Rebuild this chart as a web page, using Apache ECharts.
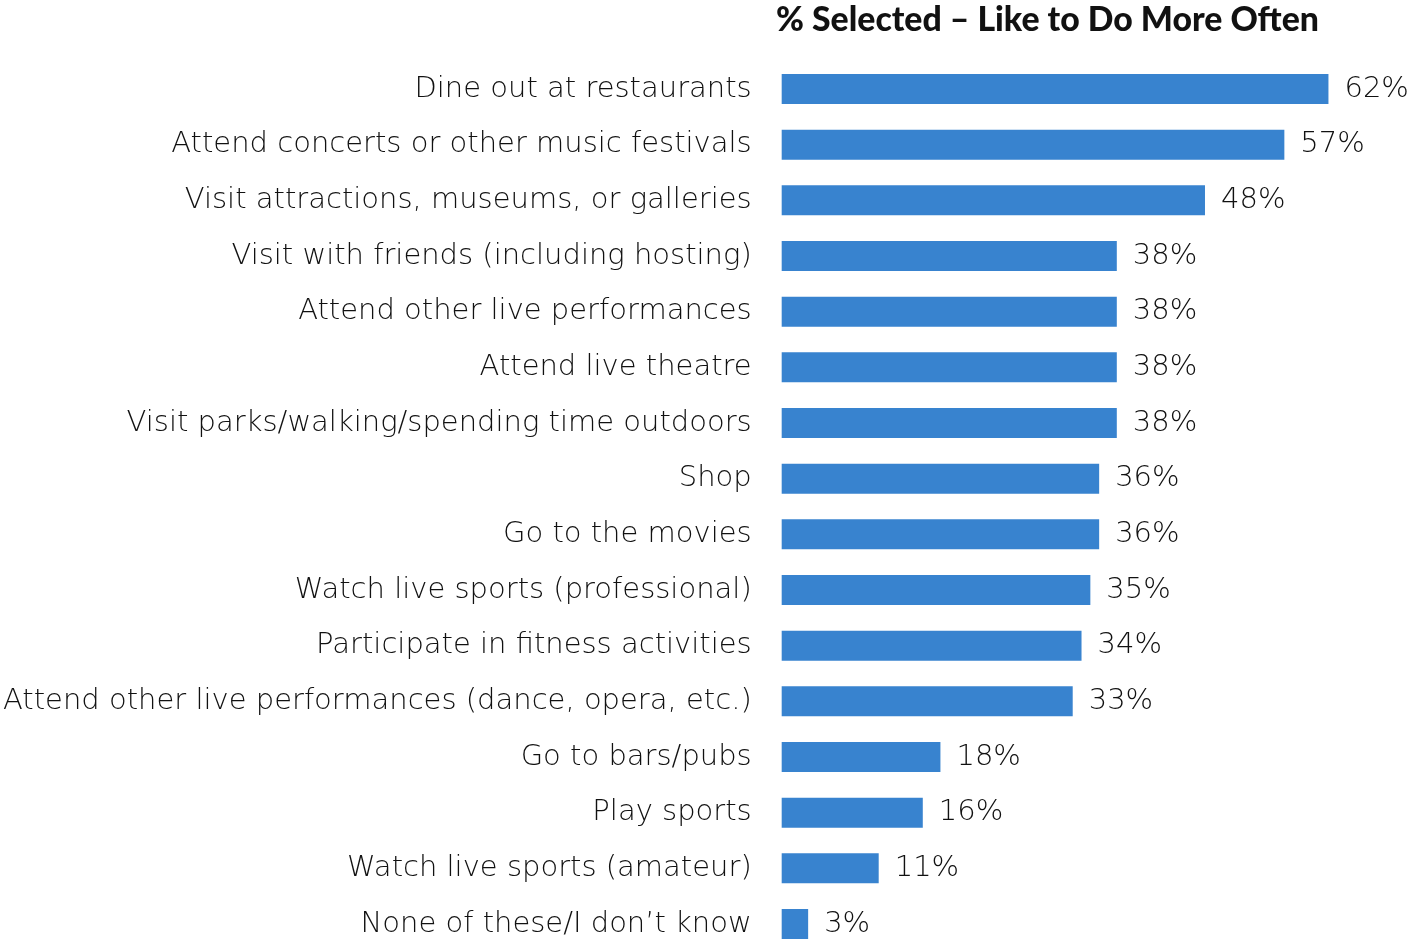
<!DOCTYPE html>
<html>
<head>
<meta charset="utf-8">
<script src="https://cdn.jsdelivr.net/npm/echarts@6/dist/echarts.min.js"></script>
<style>
  html, body { margin: 0; padding: 0; background: #fff; }
  #chart { width: 1410px; height: 940px; }
</style>
</head>
<body>
<div id="chart"></div>
<script>
// Activities, listed top to bottom
const activities = [
  'Dine out at restaurants',
  'Attend concerts or other music festivals',
  'Visit attractions, museums, or galleries',
  'Visit with friends (including hosting)',
  'Attend other live performances',
  'Attend live theatre',
  'Visit parks/walking/spending time outdoors',
  'Shop',
  'Go to the movies',
  'Watch live sports (professional)',
  'Participate in fitness activities',
  'Attend other live performances (dance, opera, etc.)',
  'Go to bars/pubs',
  'Play sports',
  'Watch live sports (amateur)',
  'None of these/I don\u2019t know'
];

// Share of respondents selecting each activity (%)
const selectedPct = [62, 57, 48, 38, 38, 38, 38, 36, 36, 35, 34, 33, 18, 16, 11, 3];

const titleText = '% Selected \u2013 Like to Do More Often';

const chart = echarts.init(document.getElementById('chart'), null, { renderer: 'canvas' });

const LABEL_FONT = '"DejaVu Sans", "Open Sans", sans-serif';
const TITLE_FONT = 'Lato, "Noto Sans", sans-serif';

chart.setOption({
  backgroundColor: '#ffffff',
  animation: false,
  title: {
    text: titleText,
    left: 771,
    top: -2,
    textStyle: {
      fontFamily: TITLE_FONT,
      fontWeight: 900,
      fontSize: 33.8,
      color: '#111111'
    }
  },
  // category centres run from the first row to the last row (no boundary gap)
  grid: {
    left: 781,
    top: 89,
    width: 618,
    height: 835,
    containLabel: false
  },
  xAxis: {
    type: 'value',
    min: 0,
    max: 70,
    show: false
  },
  yAxis: {
    type: 'category',
    inverse: true,
    boundaryGap: false,
    data: activities,
    axisLine: { show: false },
    axisTick: { show: false },
    splitLine: { show: false },
    axisLabel: {
      margin: 30,
      padding: [10, 0, 0, 0],
      fontFamily: LABEL_FONT,
      fontSize: 29,
      fontWeight: 200,
      color: '#111111'
    }
  },
  series: [{
    type: 'bar',
    data: selectedPct,
    barWidth: 30,
    itemStyle: { color: '#3883CF' },
    label: {
      show: true,
      position: 'right',
      distance: 16,
      padding: [10, 0, 0, 0],
      formatter: '{c}%',
      fontFamily: LABEL_FONT,
      fontSize: 29,
      fontWeight: 200,
      color: '#111111'
    }
  }]
});
</script>
</body>
</html>
